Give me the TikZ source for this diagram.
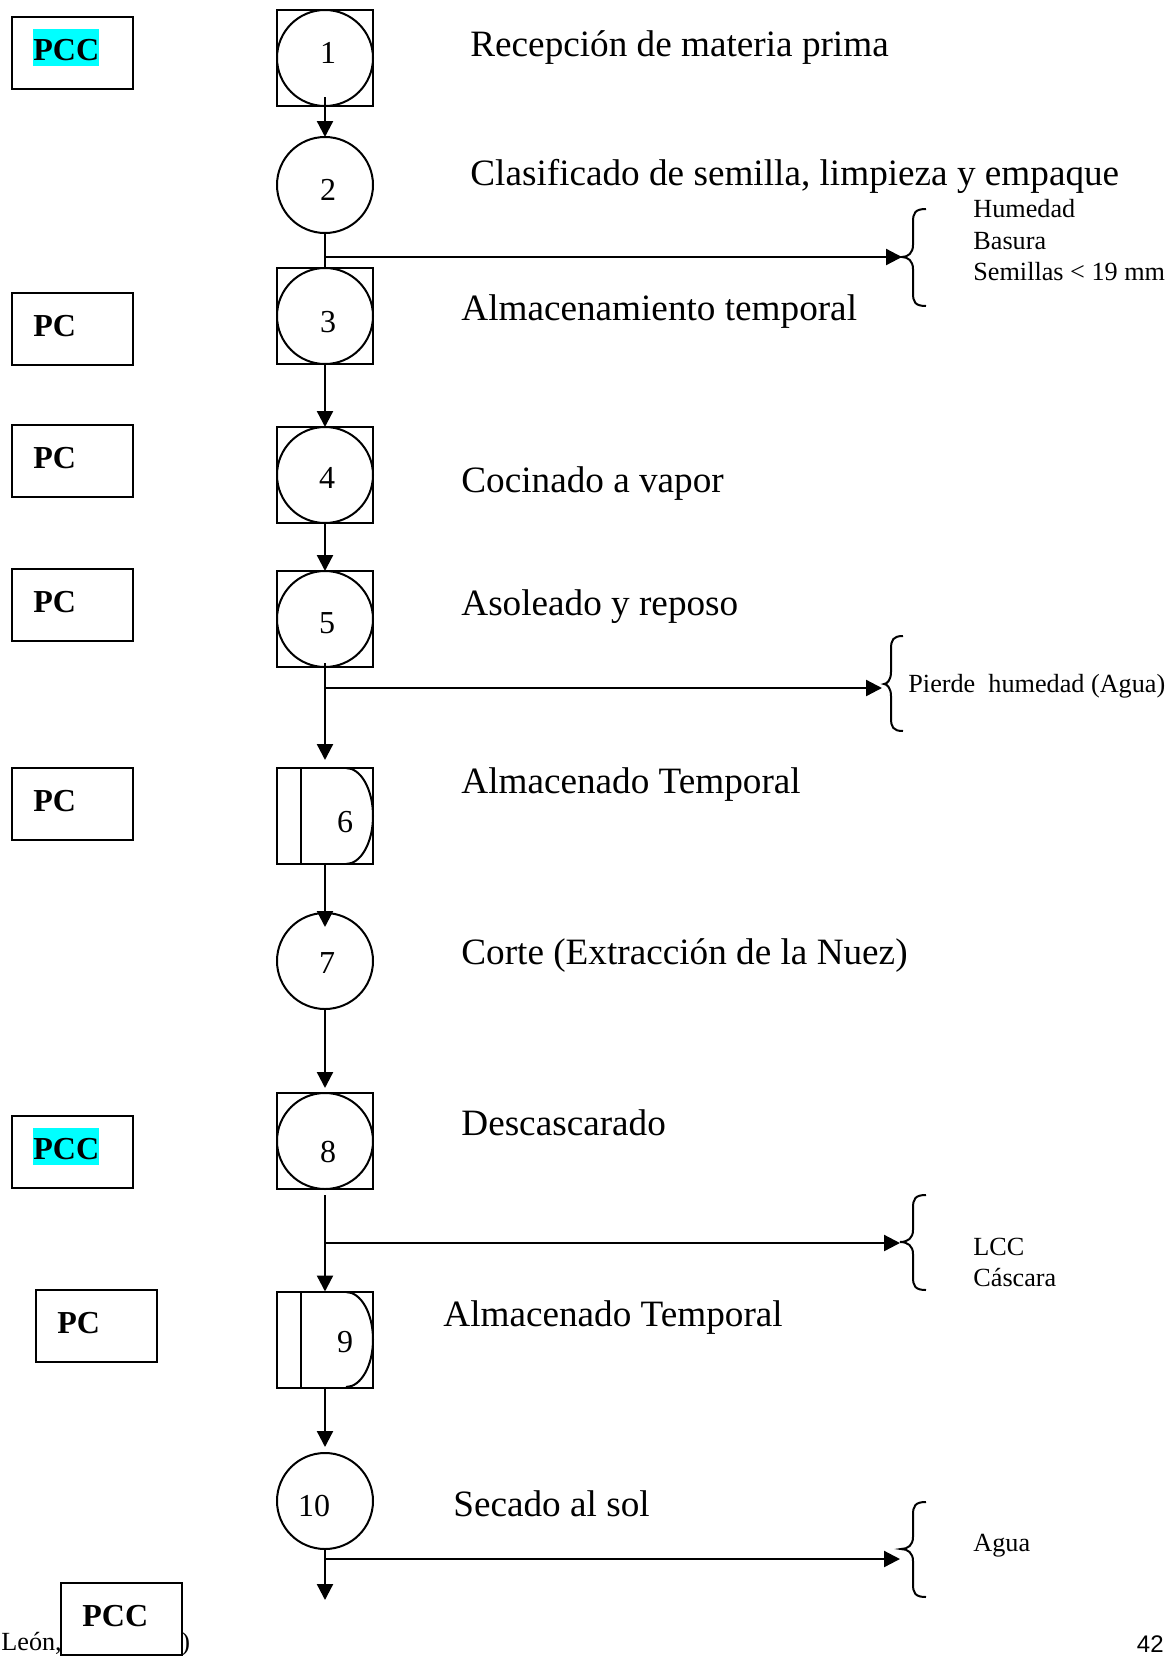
\documentclass[tikz,border=0pt]{standalone}
\usepackage{fontspec}
\setmainfont{Liberation Serif}
\newfontfamily\pagenumfont{Liberation Sans}
\usetikzlibrary{arrows.meta}
\definecolor{hilite}{RGB}{0,255,255}

\tikzset{
  flow/.style={line width=1.15pt, -{Triangle[length=8pt,width=8pt]}},
  plain/.style={line width=1.15pt},
  opsq/.style={draw, line width=1pt, minimum size=48pt, inner sep=0pt, outer sep=0pt},
  opcirc/.style={draw, circle, line width=1pt, minimum size=48pt, inner sep=0pt, outer sep=0pt},
  ctrlbox/.style={draw, fill=white, line width=1pt, minimum width=60.5pt, minimum height=36pt, inner sep=0pt, outer sep=0pt, anchor=north west},
  num/.style={font=\fontsize{16}{19}\selectfont, inner sep=0pt},
  steplabel/.style={font=\fontsize{18.6}{22}\selectfont, anchor=base west, inner sep=0pt},
  outlabel/.style={font=\fontsize{13.1}{15.2}\selectfont, anchor=base west, inner sep=0pt},
  ctrltext/.style={font=\bfseries\fontsize{16}{19}\selectfont, anchor=base west, inner sep=0pt},
  hl/.style={fill=hilite, text height=15.3pt, text depth=3pt},
  bracepen/.style={line width=1pt},
}

\begin{document}
\begin{tikzpicture}[x=0.5pt, y=-0.5pt]
\useasboundingbox (0,0) rectangle (1173,1656);

% ---------- process symbols ----------
\node[opsq]   (s1) at (325,58) {};
\node[opcirc] (c1) at (325,58) {};
\node[num]    (n1) at (328,53) {1};

\node[opcirc] (c2) at (325,185) {};
\node[num]    (n2) at (328,190) {2};

\node[opsq]   (s3) at (325,316) {};
\node[opcirc] (c3) at (325,316) {};
\node[num]    (n3) at (328,322) {3};

\node[opsq]   (s4) at (325,475) {};
\node[opcirc] (c4) at (325,475) {};
\node[num]    (n4) at (327,478) {4};

\node[opsq]   (s5) at (325,619) {};
\node[opcirc] (c5) at (325,619) {};
\node[num]    (n5) at (327,623) {5};

% storage with delay (D shape)
\node[opsq]   (s6) at (325,816) {};
\draw[line width=1pt] (301,768) -- (301,864);
\draw[line width=1pt] (346,768) arc[start angle=90, end angle=-90, x radius=13.5pt, y radius=24pt];
\node[num]    (n6) at (345,822) {6};

\node[opcirc] (c7) at (325,961) {};
\node[num]    (n7) at (327,963) {7};

\node[opsq]   (s8) at (325,1141) {};
\node[opcirc] (c8) at (325,1141) {};
\node[num]    (n8) at (328,1152) {8};

\node[opsq]   (s9) at (325,1339.5) {};
\draw[line width=1pt] (301,1292) -- (301,1387);
\draw[line width=1pt] (346,1292) arc[start angle=90, end angle=-90, x radius=13.5pt, y radius=23.75pt];
\node[num]    (n9) at (345,1342) {9};

\node[opcirc] (c10) at (325,1501) {};
\node[num]    (n10) at (314,1506) {10};

% ---------- waste outlets ----------
\coordinate (w1) at (902,257);
\coordinate (w2) at (882,688);
\coordinate (w3) at (900,1243);
\coordinate (w4) at (900,1559);
\coordinate (e10) at (325,1600);

% ---------- connectors ----------
\draw[flow]  ([yshift=4.5pt]c1.south) -- (c2.north);
\draw[plain] (c2.south) -- (s3.north);
\draw[flow]  (c2.south |- w1) -- (w1);
\draw[flow]  (s3.south) -- (s4.north);
\draw[flow]  (s4.south) -- (s5.north);
\draw[flow, shorten >=4pt] ([yshift=2pt]s5.south) -- (s6.north);
\draw[flow]  (s5.south |- w2) -- (w2);
\draw[flow, shorten >=-7pt] (s6.south) -- (c7.north);
\draw[flow, shorten >=2.5pt] (c7.south) -- (s8.north);
\draw[flow]  ([yshift=-3pt]s8.south) -- (s9.north);
\draw[flow]  (s8.south |- w3) -- (w3);
\draw[flow, shorten >=3pt] (s9.south) -- (c10.north);
\draw[flow]  (c10.south) -- (e10);
\draw[flow]  (c10.south |- w4) -- (w4);

% ---------- braces ----------
\draw[bracepen] (926,209) .. controls (915,209) and (913,213) .. (913,222) -- (913,245)
  .. controls (913,253) and (908,257) .. (902,257) .. controls (908,257) and (913,261) .. (913,269)
  -- (913,293) .. controls (913,302) and (915,306) .. (926,306);
\draw[bracepen] (903,636) .. controls (893,636) and (891,640) .. (891,649) -- (891,672)
  .. controls (891,680) and (887,684) .. (884,684) .. controls (887,684) and (891,688) .. (891,696)
  -- (891,718) .. controls (891,727) and (893,731) .. (903,731);
\draw[bracepen] (926,1195) .. controls (915,1195) and (913,1199) .. (913,1208) -- (913,1230)
  .. controls (913,1238) and (908,1242) .. (900,1242) .. controls (908,1242) and (913,1246) .. (913,1254)
  -- (913,1277) .. controls (913,1286) and (915,1290) .. (926,1290);
\draw[bracepen] (926,1502) .. controls (915,1502) and (913,1506) .. (913,1515) -- (913,1537)
  .. controls (913,1545) and (908,1549) .. (901,1549) .. controls (908,1549) and (913,1553) .. (913,1561)
  -- (913,1584) .. controls (913,1593) and (915,1597) .. (926,1597);

\node[outlabel] (o1a) at (973,217) {Humedad};
\node[outlabel] (o1b) at (973,249) {Basura};
\node[outlabel] (o1c) at (973,280) {Semillas < 19 mm};
\node[outlabel] (o2)  at (908,692) {Pierde\ \ humedad (Agua)};
\node[outlabel] (o3a) at (973,1255) {LCC};
\node[outlabel] (o3b) at (973,1286) {Cáscara};
\node[outlabel] (o4)  at (973,1551) {Agua};

% ---------- step descriptions ----------
\node[steplabel] (t1)  at (470,56)   {Recepción de materia prima};
\node[steplabel] (t2)  at (470,185)  {Clasificado de semilla, limpieza y empaque};
\node[steplabel] (t3)  at (461,320)  {Almacenamiento temporal};
\node[steplabel] (t4)  at (461,492)  {Cocinado a vapor};
\node[steplabel] (t5)  at (461,615)  {Asoleado y reposo};
\node[steplabel] (t6)  at (461,793)  {Almacenado Temporal};
\node[steplabel] (t7)  at (461,964)  {Corte (Extracción de la Nuez)};
\node[steplabel] (t8)  at (461,1135) {Descascarado};
\node[steplabel] (t9)  at (443,1326) {Almacenado Temporal};
\node[steplabel] (t10) at (453,1516) {Secado al sol};

% ---------- control points ----------
\node[ctrlbox] (k1) at (12,17) {};
\node[ctrltext, hl] (k1t) at (33,60) {PCC};
\node[ctrlbox] (k2) at (12,293) {};
\node[ctrltext] (k2t) at (33,336) {PC};
\node[ctrlbox] (k3) at (12,425) {};
\node[ctrltext] (k3t) at (33,468) {PC};
\node[ctrlbox] (k4) at (12,569) {};
\node[ctrltext] (k4t) at (33,612) {PC};
\node[ctrlbox] (k5) at (12,768) {};
\node[ctrltext] (k5t) at (33,811) {PC};
\node[ctrlbox] (k6) at (12,1116) {};
\node[ctrltext, hl] (k6t) at (33,1159) {PCC};
\node[ctrlbox] (k7) at (36,1290) {};
\node[ctrltext] (k7t) at (57,1333) {PC};

% ---------- footer ----------
\node[font=\fontsize{13.1}{15.2}\selectfont, anchor=base west, inner sep=0pt] (ft1) at (1,1650) {León,};
\node[font=\fontsize{13.1}{15.2}\selectfont, anchor=base west, inner sep=0pt] (ft2) at (181,1650) {)};
\node[ctrlbox] (k8) at (61,1583) {};
\node[ctrltext] (k8t) at (82,1626) {PCC};
\node[font=\pagenumfont\fontsize{12}{14}\selectfont, anchor=base east, inner sep=0pt] (pg) at (1164,1652) {42};
\end{tikzpicture}
\end{document}
